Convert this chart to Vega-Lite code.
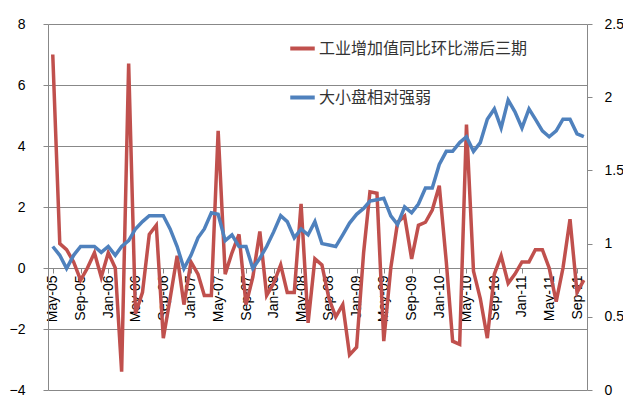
{
  "$schema": "https://vega.github.io/schema/vega-lite/v6.json",
  "width": 539,
  "height": 366,
  "autosize": "none",
  "padding": {"left": 48, "top": 24, "right": 36, "bottom": 22},
  "config": {
    "view": {"stroke": null},
    "font": "Liberation Sans",
    "axis": {"labelFontSize": 14, "labelColor": "#000", "domainColor": "#888", "tickColor": "#888", "gridColor": "#888", "titleFontSize": 0}
  },
  "data": {"values": [
    {"d":"2005-05-01","ind":7.0,"rel":0.98},{"d":"2005-06-01","ind":0.8,"rel":0.92},{"d":"2005-07-01","ind":0.6,"rel":0.83},{"d":"2005-08-01","ind":0.2,"rel":0.92},
    {"d":"2005-09-01","ind":-0.4,"rel":0.98},{"d":"2005-10-01","ind":0.0,"rel":0.98},{"d":"2005-11-01","ind":0.5,"rel":0.98},{"d":"2005-12-01","ind":-0.3,"rel":0.94},
    {"d":"2006-01-01","ind":0.5,"rel":0.98},{"d":"2006-02-01","ind":0.0,"rel":0.92},{"d":"2006-03-01","ind":-3.4,"rel":0.98},{"d":"2006-04-01","ind":6.7,"rel":1.02},
    {"d":"2006-05-01","ind":-1.5,"rel":1.10},{"d":"2006-06-01","ind":-0.8,"rel":1.15},{"d":"2006-07-01","ind":1.1,"rel":1.19},{"d":"2006-08-01","ind":1.4,"rel":1.19},
    {"d":"2006-09-01","ind":-2.3,"rel":1.19},{"d":"2006-10-01","ind":-1.0,"rel":1.10},{"d":"2006-11-01","ind":0.4,"rel":0.98},{"d":"2006-12-01","ind":-1.2,"rel":0.83},
    {"d":"2007-01-01","ind":0.2,"rel":0.92},{"d":"2007-02-01","ind":-0.2,"rel":1.04},{"d":"2007-03-01","ind":-0.9,"rel":1.10},{"d":"2007-04-01","ind":-0.9,"rel":1.21},
    {"d":"2007-05-01","ind":4.5,"rel":1.20},{"d":"2007-06-01","ind":-0.2,"rel":1.02},{"d":"2007-07-01","ind":0.5,"rel":1.06},{"d":"2007-08-01","ind":1.1,"rel":0.98},
    {"d":"2007-09-01","ind":-1.2,"rel":0.98},{"d":"2007-10-01","ind":-0.3,"rel":0.83},{"d":"2007-11-01","ind":1.2,"rel":0.90},{"d":"2007-12-01","ind":-0.9,"rel":0.98},
    {"d":"2008-01-01","ind":-0.5,"rel":1.08},{"d":"2008-02-01","ind":0.1,"rel":1.19},{"d":"2008-03-01","ind":-0.8,"rel":1.15},{"d":"2008-04-01","ind":-0.8,"rel":1.04},
    {"d":"2008-05-01","ind":2.1,"rel":1.10},{"d":"2008-06-01","ind":-1.8,"rel":1.06},{"d":"2008-07-01","ind":0.3,"rel":1.15},{"d":"2008-08-01","ind":0.1,"rel":1.00},
    {"d":"2008-09-01","ind":-1.0,"rel":0.99},{"d":"2008-10-01","ind":-1.6,"rel":0.98},{"d":"2008-11-01","ind":-1.2,"rel":1.06},{"d":"2008-12-01","ind":-2.85,"rel":1.14},
    {"d":"2009-01-01","ind":-2.6,"rel":1.20},{"d":"2009-02-01","ind":0.5,"rel":1.24},{"d":"2009-03-01","ind":2.5,"rel":1.29},{"d":"2009-04-01","ind":2.45,"rel":1.30},
    {"d":"2009-05-01","ind":-2.4,"rel":1.31},{"d":"2009-06-01","ind":0.0,"rel":1.19},{"d":"2009-07-01","ind":1.5,"rel":1.13},{"d":"2009-08-01","ind":1.7,"rel":1.25},
    {"d":"2009-09-01","ind":0.3,"rel":1.21},{"d":"2009-10-01","ind":1.4,"rel":1.27},{"d":"2009-11-01","ind":1.5,"rel":1.38},{"d":"2009-12-01","ind":1.9,"rel":1.38},
    {"d":"2010-01-01","ind":2.7,"rel":1.54},{"d":"2010-02-01","ind":0.2,"rel":1.63},{"d":"2010-03-01","ind":-2.4,"rel":1.63},{"d":"2010-04-01","ind":-2.5,"rel":1.69},
    {"d":"2010-05-01","ind":4.7,"rel":1.73},{"d":"2010-06-01","ind":-0.1,"rel":1.63},{"d":"2010-07-01","ind":-1.0,"rel":1.69},{"d":"2010-08-01","ind":-2.3,"rel":1.85},
    {"d":"2010-09-01","ind":-0.2,"rel":1.92},{"d":"2010-10-01","ind":0.4,"rel":1.79},{"d":"2010-11-01","ind":-0.5,"rel":1.98},{"d":"2010-12-01","ind":-0.2,"rel":1.90},
    {"d":"2011-01-01","ind":0.2,"rel":1.79},{"d":"2011-02-01","ind":0.2,"rel":1.92},{"d":"2011-03-01","ind":0.6,"rel":1.85},{"d":"2011-04-01","ind":0.6,"rel":1.77},
    {"d":"2011-05-01","ind":0.0,"rel":1.73},{"d":"2011-06-01","ind":-1.1,"rel":1.77},{"d":"2011-07-01","ind":0.0,"rel":1.85},{"d":"2011-08-01","ind":1.6,"rel":1.85},
    {"d":"2011-09-01","ind":-0.8,"rel":1.75},{"d":"2011-10-01","ind":-0.4,"rel":1.73}
  ]},
  "encoding": {
    "x": {
      "field": "d", "type": "temporal",
      "scale": {"domain": ["2005-04-10", "2011-10-15"]},
      "axis": {
        "offset": -122, "format": "%b-%y", "labelAngle": -90, "grid": false, "title": null,
        "values": ["2005-05-01","2005-09-01","2006-01-01","2006-05-01","2006-09-01","2007-01-01","2007-05-01","2007-09-01","2008-01-01","2008-05-01","2008-09-01","2009-01-01","2009-05-01","2009-09-01","2010-01-01","2010-05-01","2010-09-01","2011-01-01","2011-05-01","2011-09-01"]
      }
    }
  },
  "layer": [
    {
      "mark": {"type": "line", "strokeWidth": 3.5},
      "encoding": {
        "y": {"field": "ind", "type": "quantitative", "scale": {"domain": [-4, 8], "nice": false},
              "axis": {"values": [-4,-2,0,2,4,6,8], "title": null, "grid": true, "ticks": true, "labelPadding": 18, "tickSize": 5}},
        "color": {"datum": "工业增加值同比环比滞后三期", "type": "nominal",
          "scale": {"domain": ["工业增加值同比环比滞后三期", "大小盘相对强弱"], "range": ["#C0504D", "#4F81BD"]},
          "legend": {"orient": "none", "legendX": 240, "legendY": 10, "title": null, "symbolType": "stroke", "symbolSize": 600, "symbolStrokeWidth": 4, "labelFontSize": 16, "labelFont": "Noto Sans CJK SC", "labelColor": "#333", "labelLimit": 400, "rowPadding": 26, "labelOffset": 2}}
      }
    },
    {
      "mark": {"type": "line", "strokeWidth": 3.5},
      "encoding": {
        "y": {"field": "rel", "type": "quantitative", "scale": {"domain": [0, 2.5], "nice": false},
              "axis": {"orient": "right", "values": [0, 0.5, 1, 1.5, 2, 2.5], "format": "~g", "title": null, "grid": false, "labelPadding": 12}},
        "color": {"datum": "大小盘相对强弱", "type": "nominal"}
      }
    }
  ],
  "resolve": {"scale": {"y": "independent"}}
}
